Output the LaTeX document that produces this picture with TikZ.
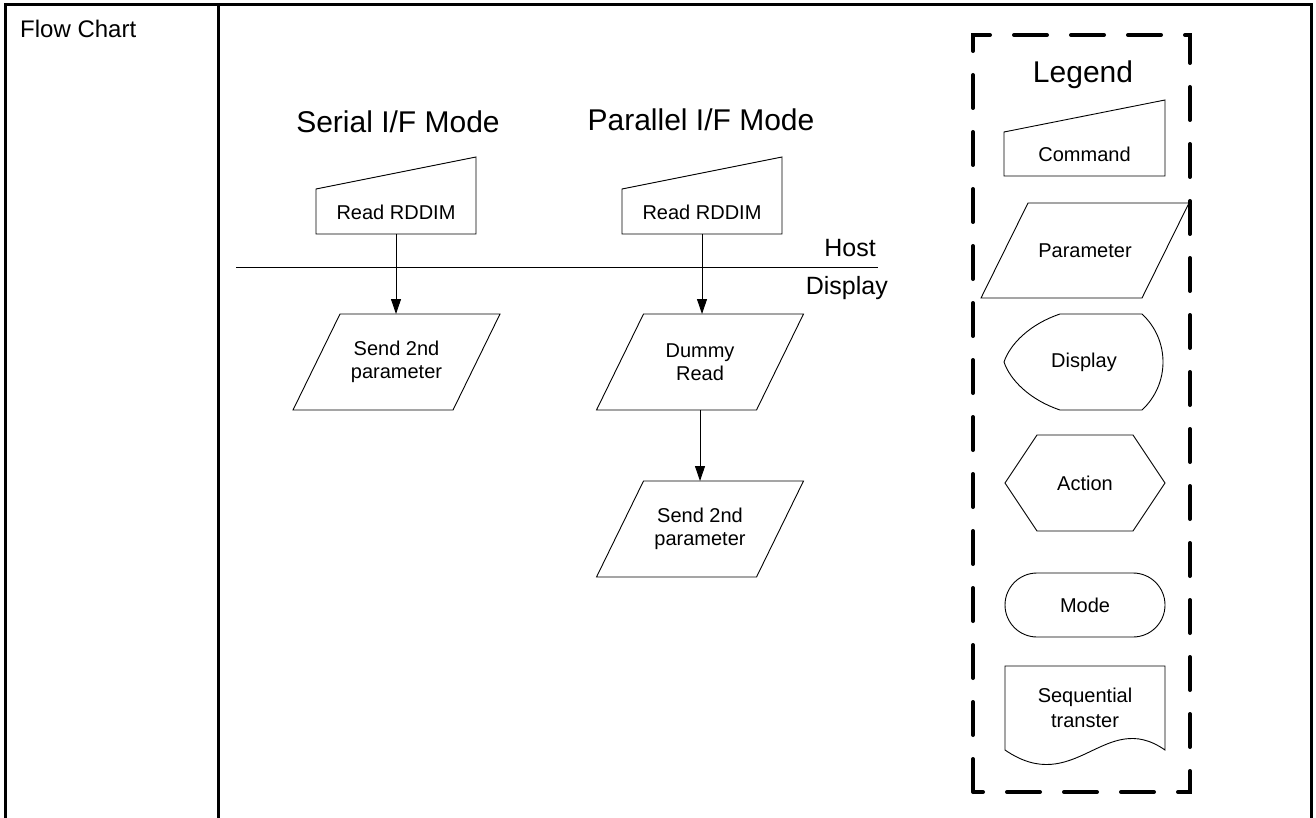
\documentclass[tikz,border=0pt]{standalone}
\usepackage{fontspec}
\setmainfont{Liberation Sans}
\usetikzlibrary{arrows.meta,calc}
\begin{document}
\begin{tikzpicture}[x=1pt,y=-1pt,
  shapeline/.style={draw=black, line width=0.9pt, line join=miter},
  flowarrow/.style={draw=black, line width=0.9pt, -{Triangle[length=15pt,width=10pt]}},
  lbl/.style={font=\fontsize{20}{23}\selectfont, align=center, inner sep=0pt},
  heading/.style={font=\fontsize{30}{34}\selectfont, inner sep=0pt, anchor=base},
  sidetext/.style={font=\fontsize{25}{28}\selectfont, inner sep=0pt, anchor=base east},
  shapebox/.style={inner sep=0pt, outer sep=0pt, align=center, font=\fontsize{20}{23}\selectfont},
  tableline/.style={line width=3pt},
  legendframe/.style={line width=4pt, dash pattern=on 33pt off 24pt, line cap=round}]
\useasboundingbox (0,0) rectangle (1316,818);

% table
\draw[tableline] (5,820) -- (5,5) -- (1311,5) -- (1311,820);
\draw[tableline] (218,5) -- (218,820);
\node[font=\fontsize{24}{28}\selectfont, inner sep=0pt, anchor=base west] (fc) at (20,38) {Flow Chart};

% titles
\node[heading] (st) at (398,133) {Serial I/F Mode};
\node[heading] (pt) at (701,131) {Parallel I/F Mode};

% commands
\node[shapebox, minimum width=160pt, minimum height=77pt] (cmd1) at (396,195.5) {};
\draw[shapeline] (cmd1.south west) -- (cmd1.south east) -- (cmd1.north east) -- ($(cmd1.north west)+(0,32)$) -- cycle;
\node[lbl] (cmd1t) at ($(cmd1.south)+(0,-22)$) {Read RDDIM};

\node[shapebox, minimum width=160pt, minimum height=77pt] (cmd2) at (702,195.5) {};
\draw[shapeline] (cmd2.south west) -- (cmd2.south east) -- (cmd2.north east) -- ($(cmd2.north west)+(0,32)$) -- cycle;
\node[lbl] (cmd2t) at ($(cmd2.south)+(0,-22)$) {Read RDDIM};

% host / display separator
\coordinate (hl) at (236,267);
\coordinate (hr) at (878,267);
\draw[line width=0.9pt] (hl) -- (hr);
\node[sidetext] (host) at (876,256) {Host};
\node[sidetext] (disp) at (888,294) {Display};

% parameters
\node[shapebox, minimum width=207pt, minimum height=96pt] (p1) at (396.5,362) {Send 2nd\\parameter};
\draw[shapeline] ($(p1.north west)+(47,0)$) -- (p1.north east) -- ($(p1.south east)+(-47,0)$) -- (p1.south west) -- cycle;

\node[shapebox, minimum width=207pt, minimum height=96pt] (p2) at (700,362) {Dummy\\Read};
\draw[shapeline] ($(p2.north west)+(47,0)$) -- (p2.north east) -- ($(p2.south east)+(-47,0)$) -- (p2.south west) -- cycle;

\node[shapebox, minimum width=207pt, minimum height=96pt] (p3) at (700,529) {Send 2nd\\parameter};
\draw[shapeline] ($(p3.north west)+(47,0)$) -- (p3.north east) -- ($(p3.south east)+(-47,0)$) -- (p3.south west) -- cycle;

% connectors
\draw[flowarrow] (cmd1.south) -- (cmd1.south |- p1.north);
\draw[flowarrow] (cmd2.south) -- (cmd2.south |- p2.north);
\draw[flowarrow] (p2.south) -- (p3.north);

% legend
\draw[legendframe] (973,792) -- (973,35) -- (1190,35) -- (1190,792) -- cycle;
\node[heading] (lg) at (1083,83) {Legend};

\node[shapebox, minimum width=161pt, minimum height=76pt] (lc) at (1084.5,138) {};
\draw[shapeline] (lc.south west) -- (lc.south east) -- (lc.north east) -- ($(lc.north west)+(0,32)$) -- cycle;
\node[lbl] (lct) at ($(lc.south)+(0,-22)$) {Command};

\node[shapebox, minimum width=208pt, minimum height=95pt] (lp) at (1085,250.5) {Parameter};
\draw[shapeline] ($(lp.north west)+(47,0)$) -- (lp.north east) -- ($(lp.south east)+(-47,0)$) -- (lp.south west) -- cycle;

\node[shapebox, minimum width=160pt, minimum height=96pt] (ld) at (1084,362) {Display};
\begin{scope}[shift={(ld.center)}]
\draw[shapeline] (-24,-48) -- (58,-48) .. controls (86,-22) and (86,22) .. (58,48) -- (-24,48)
  .. controls (-54,38) and (-74,18) .. (-80,0) .. controls (-74,-18) and (-54,-38) .. cycle;
\end{scope}

\node[shapebox, minimum width=160pt, minimum height=96pt] (la) at (1085,483) {Action};
\begin{scope}[shift={(la.center)}]
\draw[shapeline] (-80,0) -- (-48,-48) -- (48,-48) -- (80,0) -- (48,48) -- (-48,48) -- cycle;
\end{scope}

\node[shapebox, minimum width=160pt, minimum height=64pt] (lm) at (1085,605) {Mode};
\begin{scope}[shift={(lm.center)}]
\draw[shapeline, rounded corners=32pt] (-80,-32) rectangle (80,32);
\end{scope}

\node[shapebox, minimum width=160pt, minimum height=84pt, font=\fontsize{20}{25}\selectfont] (ls) at (1085,708) {Sequential\\transter};
\begin{scope}[shift={(ls.center)}]
\draw[shapeline] (-80,42) -- (-80,-42) -- (80,-42) -- (80,42)
  .. controls (20,0) and (-10,90) .. cycle;
\end{scope}
\end{tikzpicture}
\end{document}
